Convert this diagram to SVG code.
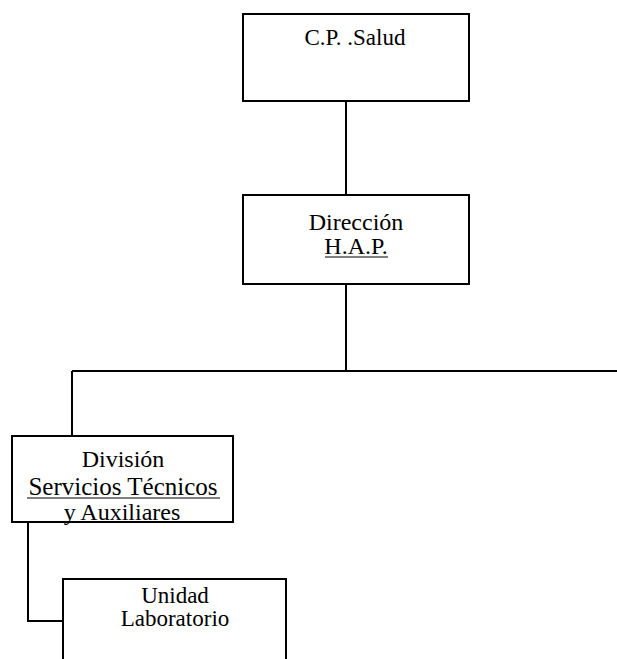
<svg xmlns="http://www.w3.org/2000/svg" width="617" height="659" viewBox="0 0 617 659">
<style>
.box{fill:none;stroke:#000;stroke-width:2}
.ln{fill:none;stroke:#000;stroke-width:2}
text{fill:#000;text-anchor:middle;font-family:'Liberation Serif','Tinos','Noto Serif','DejaVu Serif','Times New Roman',Times,serif;font-size:24px}
</style>
<rect width="617" height="659" fill="#fff"/>
<g id="connectors">
<path class="ln" d="M346 101V195"/>
<path class="ln" d="M346 284V371"/>
<path class="ln" d="M72 371H617"/>
<path class="ln" d="M72 371V436"/>
<path class="ln" d="M28 522V621H63"/>
</g>
<g id="cp-salud">
<rect class="box" x="243" y="14" width="226" height="87"/>
<text x="355" y="45" style="font-size:23px">C.P. .Salud</text>
</g>
<g id="direccion">
<rect class="box" x="243" y="195" width="226" height="89"/>
<text x="356" y="230">Dirección</text>
<text x="356" y="254">H.A.P.</text>
<line x1="325" y1="257" x2="388" y2="257" stroke="#000" stroke-width="1.2"/>
</g>
<g id="division">
<rect class="box" x="12" y="436" width="221" height="86"/>
<text x="123" y="467">División</text>
<text x="123" y="495" style="font-size:25px">Servicios Técnicos</text>
<line x1="27" y1="498" x2="220" y2="498" stroke="#000" stroke-width="1.2"/>
<text x="122" y="520">y Auxiliares</text>
</g>
<g id="unidad-laboratorio">
<path class="box" d="M63 659V579H286V659"/>
<text x="175" y="603" style="font-size:23px">Unidad</text>
<text x="175" y="626" style="font-size:23px">Laboratorio</text>
</g>
</svg>
